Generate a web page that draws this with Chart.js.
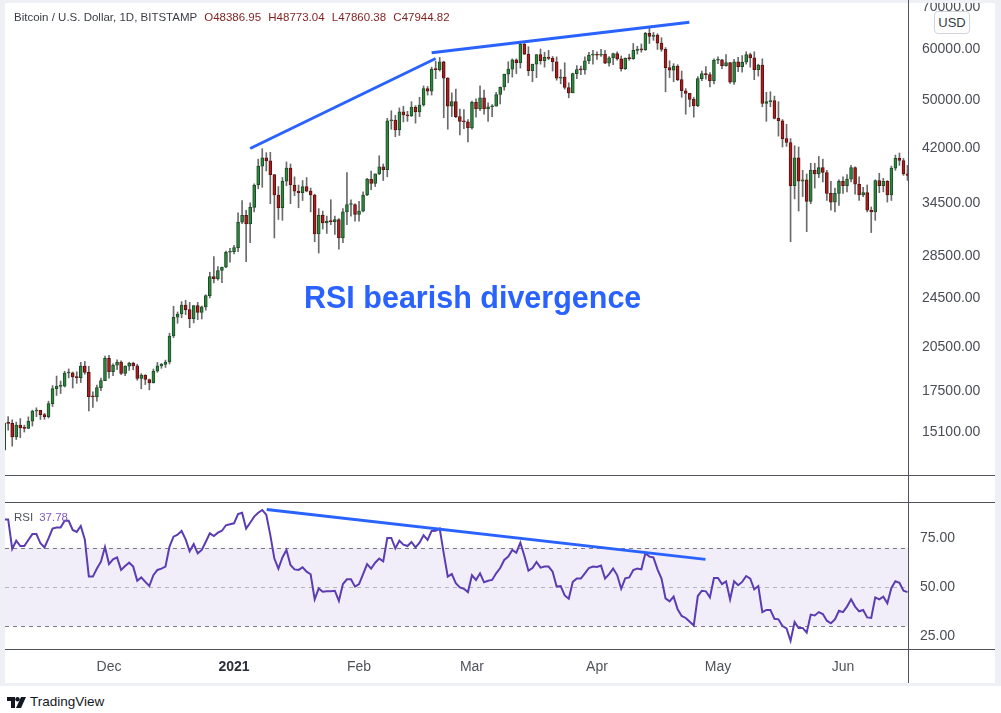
<!DOCTYPE html>
<html>
<head>
<meta charset="utf-8">
<title>Bitcoin / U.S. Dollar, 1D - RSI bearish divergence</title>
<script src="https://cdn.jsdelivr.net/npm/chart.js@4.4.1/dist/chart.umd.min.js"></script>
<style>
  html, body { margin: 0; padding: 0; background: #fff; }
  body { position: relative; width: 1001px; height: 713px; overflow: hidden; font-family: "Liberation Sans", Arial, sans-serif; }
  #frame { position: absolute; left: 0; top: 0; width: 1001px; height: 686px; background: #eef0f5; }
  #panel { position: absolute; left: 5px; top: 3px; width: 990px; height: 680px; background: #fff; }
  .pane { position: absolute; left: 5px; width: 990px; }
  .hline { position: absolute; left: 5px; width: 990px; height: 1px; background: #50535e; }
  .vline { position: absolute; left: 908px; top: 0; width: 1px; height: 683px; background: #50535e; }
  #title { position: absolute; left: 14px; top: 11px; font-size: 11.5px; color: #3a3d45; white-space: nowrap; }
  #title .ohlc { color: #7f1f1f; margin-left: 7px; word-spacing: 4px; }
  #rsiLabel { position: absolute; left: 14px; top: 511px; font-size: 11.5px; color: #50535e; white-space: nowrap; }
  #rsiLabel span { color: #7e57c2; margin-left: 6px; }
  #note { position: absolute; left: 304px; top: 282px; font-size: 30.5px; font-weight: bold; color: #2962ff; white-space: nowrap; line-height: 30px; }
  #usd { position: absolute; left: 934px; top: 11px; width: 34px; height: 21px; border: 1px solid #d1d4dc; border-radius: 4px; background: #fff;
         font-size: 13px; color: #3a3d45; text-align: center; line-height: 21px; }
  #footer { position: absolute; left: 7px; top: 694px; font-size: 13.5px; color: #131722; white-space: nowrap; }
  #footer svg { vertical-align: -2px; margin-right: 4px; }
</style>
</head>
<body>
<div id="frame"></div>
<div id="panel"></div>

<div class="pane" style="top:3px;height:472px;"><canvas id="priceChart"></canvas></div>
<div class="pane" style="top:502px;height:181px;"><canvas id="rsiChart"></canvas></div>

<div class="hline" style="top:475px;"></div>
<div class="hline" style="top:502px;"></div>
<div class="hline" style="top:649px;"></div>
<div class="vline"></div>

<div id="title">Bitcoin / U.S. Dollar, 1D, BITSTAMP<span class="ohlc">O48386.95 H48773.04 L47860.38 C47944.82</span></div>
<div id="rsiLabel">RSI<span>37.78</span></div>
<div id="note">RSI bearish divergence</div>
<div id="usd">USD</div>
<div id="footer"><svg width="19" height="11" viewBox="0 0 19 11"><path d="M0 0h8v11H4V4H0z" fill="#131722"/><circle cx="10.5" cy="2.2" r="2.2" fill="#131722"/><path d="M14 0h5l-5 11h-5z" fill="#131722"/></svg>TradingView</div>

<script>
// daily candles, BTC/USD Bitstamp, index 0 = 5 Nov 2020 ... index 224 = 17 Jun 2021
const openP = [
  14150, 15590, 15580, 14830, 15480, 15330, 15300, 15700, 16290, 16330,
  16080, 15960, 16730, 17660, 17800, 17820, 18680, 18700, 18420, 18370,
  19160, 18720, 17150, 17140, 17720, 18180, 19700, 18780, 19220, 19440,
  18650, 19150, 19360, 19170, 18320, 18550, 18250, 18030, 18800, 19170,
  19270, 19440, 21350, 22840, 23110, 23860, 23480, 22730, 23820, 23240,
  23720, 24690, 26460, 26250, 27040, 27360, 28880, 28950, 29370, 32190,
  33000, 31990, 33950, 36800, 39400, 40600, 40150, 38200, 35500, 33900,
  37300, 39100, 36800, 36000, 35800, 36600, 36000, 35500, 30850, 33000,
  32100, 32300, 32250, 32500, 30400, 33400, 34300, 34300, 33100, 33500,
  35500, 37600, 37000, 38300, 39300, 38900, 46400, 46500, 44900, 47900,
  47400, 47200, 48700, 47900, 49100, 52100, 51600, 55900, 55800, 57400,
  54100, 48900, 49700, 47100, 46300, 46200, 45200, 49600, 48400, 50400,
  48400, 48800, 48900, 51000, 52400, 54900, 55900, 57800, 57200, 61200,
  59000, 55600, 56900, 58900, 57600, 58300, 58100, 57400, 54100, 54300,
  52300, 51300, 55000, 55800, 55750, 57600, 58800, 58850, 58750, 59000,
  57100, 58200, 59100, 58000, 56000, 58100, 58050, 59800, 60000, 59900,
  63600, 62900, 63200, 61400, 60000, 56200, 55700, 56500, 53800, 51700,
  51200, 50100, 49000, 54000, 55000, 54800, 53600, 57700, 57800, 56600,
  57200, 53300, 57400, 56400, 57300, 58900, 58200, 55800, 56700, 49400,
  49700, 49900, 46800, 46400, 43500, 42900, 36700, 40600, 37300, 37500,
  34700, 38800, 38300, 39200, 38500, 35700, 34600, 35700, 37300, 36700,
  37600, 39200, 36900, 35500, 35800, 33600, 33400, 37400, 36700, 37300,
  35500, 39100, 40500, 40200, 38300
];
const highP = [
  15750, 15960, 15780, 15650, 15850, 15480, 15950, 16340, 16480, 16330,
  16150, 16880, 17850, 18480, 18150, 18800, 18960, 18750, 18770, 19420,
  19480, 19140, 17450, 17880, 18340, 19850, 19920, 19310, 19600, 19520,
  19180, 19420, 19420, 19290, 18640, 18560, 18280, 18950, 19410, 19340,
  19570, 21560, 23770, 23280, 24170, 24290, 24100, 23830, 24100, 23790,
  24770, 26870, 28420, 27420, 27380, 28990, 29300, 29600, 33300, 34800,
  33600, 34500, 36950, 40400, 41950, 41350, 41400, 38200, 36600, 37800,
  40000, 39700, 37900, 36800, 37400, 37800, 36400, 35600, 33800, 33500,
  32900, 34900, 32900, 32600, 33800, 38500, 34900, 34400, 34700, 35900,
  37700, 38700, 38300, 40900, 39700, 46800, 48100, 47300, 48600, 48900,
  48000, 49700, 49000, 50500, 52600, 52500, 56300, 57500, 58300, 57500,
  54200, 51300, 52000, 48400, 48300, 46600, 49800, 50200, 52600, 51800,
  49500, 49200, 51400, 52400, 54900, 57400, 58000, 58000, 61800, 61700,
  60600, 56900, 58900, 60100, 59400, 59800, 58500, 58400, 55800, 57200,
  53200, 55100, 56600, 56500, 58400, 59400, 59800, 59500, 60000, 59800,
  58500, 59200, 59500, 58600, 58200, 59000, 61300, 60700, 61200, 63800,
  64900, 63800, 63500, 62600, 60400, 57600, 57000, 56800, 55500, 52100,
  51200, 50500, 54400, 55500, 56400, 55200, 58000, 58400, 57900, 58900,
  57200, 57900, 58300, 58700, 59500, 59200, 59500, 56900, 58000, 51400,
  51500, 50700, 49700, 46600, 45800, 43500, 42400, 42200, 38800, 38300,
  39800, 39800, 40800, 40400, 38800, 37300, 36400, 37500, 37900, 38200,
  39500, 39300, 37900, 36500, 36800, 34000, 37500, 38400, 37700, 37400,
  39400, 41000, 41300, 40500, 39500
];
const lowP = [
  14100, 15200, 14350, 14700, 14800, 15100, 15280, 15430, 15960, 15800,
  15810, 15880, 16560, 17230, 17350, 17760, 18360, 17700, 18000, 18050,
  18600, 16300, 16500, 16880, 17530, 18180, 18330, 18500, 18900, 18570,
  18500, 18860, 18900, 18200, 17650, 17920, 17580, 18020, 18730, 19000,
  19060, 19300, 21230, 22350, 22800, 23060, 22000, 22380, 22640, 22700,
  23430, 24500, 25860, 26100, 25880, 27320, 27850, 28700, 28950, 32000,
  27900, 29900, 33400, 36300, 36500, 38700, 34400, 30400, 32500, 32400,
  36700, 34400, 35400, 33900, 34800, 35900, 33400, 30000, 28800, 31400,
  30900, 31900, 30800, 29200, 29900, 31900, 32900, 32300, 32300, 33400,
  35400, 36200, 36600, 38200, 37400, 37900, 45000, 43800, 44000, 46200,
  46300, 47100, 46000, 47100, 48900, 50900, 50900, 54000, 55500, 46900,
  45000, 47100, 46900, 44100, 45100, 43000, 45000, 47000, 48100, 47500,
  46300, 47100, 48900, 49300, 51800, 53200, 54300, 55000, 56100, 58900,
  54600, 53400, 54200, 56900, 56300, 57800, 55500, 53700, 53000, 52000,
  50400, 51300, 54000, 54800, 54900, 57000, 56900, 57900, 58500, 57000,
  56500, 56800, 57700, 55500, 55800, 57700, 57900, 59000, 59400, 59800,
  61300, 62000, 60000, 59600, 51500, 54200, 53400, 53600, 50500, 47500,
  48800, 47000, 48800, 53600, 53900, 52400, 53000, 57000, 56000, 56500,
  53100, 52900, 55400, 55300, 56900, 56300, 53800, 54500, 48800, 46300,
  48800, 46700, 43900, 42200, 42300, 30000, 35000, 33500, 35300, 31100,
  34400, 36400, 37800, 37200, 34800, 33600, 33400, 34200, 35700, 35900,
  37200, 35600, 34800, 35300, 33400, 31000, 32400, 35800, 35900, 34600,
  34800, 38800, 39500, 38100, 37400
];
const closeP = [
  15590, 15580, 14830, 15480, 15330, 15300, 15700, 16290, 16330, 16080,
  15960, 16730, 17660, 17800, 17820, 18680, 18700, 18420, 18370, 19160,
  18720, 17150, 17140, 17720, 18180, 19700, 18780, 19220, 19440, 18650,
  19150, 19360, 19170, 18320, 18550, 18250, 18030, 18800, 19170, 19270,
  19440, 21350, 22840, 23110, 23860, 23480, 22730, 23820, 23240, 23720,
  24690, 26460, 26250, 27040, 27360, 28880, 28950, 29370, 32190, 33000,
  31990, 33950, 36800, 39400, 40600, 40150, 38200, 35500, 33900, 37300,
  39100, 36800, 36000, 35800, 36600, 36000, 35500, 30850, 33000, 32100,
  32300, 32250, 32500, 30400, 33400, 34300, 34300, 33100, 33500, 35500,
  37600, 37000, 38300, 39300, 38900, 46400, 46500, 44900, 47900, 47400,
  47200, 48700, 47900, 49100, 52100, 51600, 55900, 55800, 57400, 54100,
  48900, 49700, 47100, 46300, 46200, 45200, 49600, 48400, 50400, 48400,
  48800, 48900, 51000, 52400, 54900, 55900, 57800, 57200, 61200, 59000,
  55600, 56900, 58900, 57600, 58300, 58100, 57400, 54100, 54300, 52300,
  51300, 55000, 55800, 55750, 57600, 58800, 58850, 58750, 59000, 57100,
  58200, 59100, 58000, 56000, 58100, 58050, 59800, 60000, 59900, 63600,
  62900, 63200, 61400, 60000, 56200, 55700, 56500, 53800, 51700, 51200,
  50100, 49000, 54000, 55000, 54800, 53600, 57700, 57800, 56600, 57200,
  53300, 57400, 56400, 57300, 58900, 58200, 55800, 56700, 49400, 49700,
  49900, 46800, 46400, 43500, 42900, 36700, 40600, 37300, 37500, 34700,
  38800, 38300, 39200, 38500, 35700, 34600, 35700, 37300, 36700, 37600,
  39200, 36900, 35500, 35800, 33600, 33400, 37400, 36700, 37300, 35500,
  39100, 40500, 40200, 38300, 38100
];

const rsi = [
  84.5, 84.5, 69.4, 73.6, 70.9, 70.9, 74.0, 77.0, 77.0, 72.3,
  70.2, 74.8, 79.8, 80.4, 80.4, 83.8, 83.8, 79.1, 78.1, 81.1,
  74.3, 55.3, 55.3, 59.4, 62.9, 70.4, 61.7, 64.1, 65.1, 58.7,
  60.7, 62.4, 60.4, 53.2, 54.9, 52.6, 50.5, 56.0, 58.7, 59.4,
  60.4, 70.6, 75.7, 76.7, 78.6, 74.3, 68.2, 71.9, 67.2, 68.9,
  73.1, 77.4, 76.0, 77.7, 78.7, 81.5, 82.0, 82.5, 87.2, 87.9,
  79.8, 82.8, 85.9, 87.9, 89.3, 86.9, 76.5, 64.5, 59.4, 65.1,
  68.9, 61.2, 59.0, 58.7, 60.0, 57.8, 56.5, 43.7, 49.3, 47.6,
  47.8, 47.8, 48.1, 42.9, 51.5, 53.9, 53.9, 50.2, 51.5, 56.6,
  61.7, 59.4, 62.4, 64.5, 63.1, 75.0, 75.0, 69.7, 73.6, 71.6,
  70.9, 73.0, 70.2, 72.6, 76.4, 74.0, 78.6, 78.7, 79.8, 67.2,
  55.3, 56.6, 51.9, 49.8, 49.1, 47.4, 56.0, 53.6, 57.0, 52.4,
  53.2, 53.6, 57.0, 59.7, 63.8, 65.5, 68.9, 67.5, 72.6, 65.8,
  58.3, 59.7, 62.8, 59.9, 60.4, 60.4, 57.8, 50.2, 50.5, 45.7,
  44.0, 52.6, 54.3, 54.3, 57.0, 59.7, 60.4, 60.2, 60.9, 54.3,
  56.6, 59.4, 56.1, 49.1, 54.4, 54.9, 58.7, 59.4, 59.0, 67.2,
  65.5, 65.1, 59.0, 54.3, 44.2, 42.7, 45.1, 38.6, 35.2, 34.2,
  32.3, 30.4, 45.4, 48.1, 47.8, 44.7, 54.6, 54.6, 51.5, 52.9,
  43.7, 52.9, 50.9, 52.6, 55.6, 54.3, 48.8, 50.5, 37.2, 38.3,
  38.3, 33.8, 33.5, 30.1, 28.9, 22.6, 32.1, 29.1, 29.1, 26.7,
  35.9, 35.5, 37.2, 36.2, 32.8, 31.5, 33.5, 37.9, 37.2, 40.0,
  43.7, 40.0, 37.6, 38.3, 34.5, 34.2, 44.7, 43.7, 45.1, 41.7,
  49.5, 52.9, 52.2, 48.1, 47.4
];

// drawn trend lines: [day index, value]
const priceTrendLow = [[61.0, 41980], [107.0, 58070]];
const priceTrendHigh = [[106.0, 59300], [169.9, 66170]];
const rsiTrend = [[65.1, 89.6], [173.9, 64.1]];

// axes
const monthTicks = [26, 57, 88, 116, 147, 177, 208];
const monthLabels = ["Dec", "2021", "Feb", "Mar", "Apr", "May", "Jun"];
const priceTicks = [15100, 17500, 20500, 24500, 28500, 34500, 42000, 50000, 60000, 70000];
const rsiTicks = [25, 50, 75];
const rsiUpper = 70;
const rsiMid = 50;
const rsiLower = 30;

const xMin = 0.21;
const xMax = 224.12;
const priceMin = 12933;
const priceMax = 70940;
const rsiMin = 18.37;
const rsiMax = 93.37;
const axisWidth = 87;

const upFill = "#2e8540";
const upLine = "#1c4d25";
const downFill = "#a81e1e";
const downLine = "#5c1111";
const wickColor = "#6b6b6b";
const trendColor = "#2962ff";

Chart.defaults.font.family = "'Liberation Sans', Arial, sans-serif";

const isUp = (i) => closeP[i] >= openP[i];
const toPoints = (pairs) => pairs.map(([x, y]) => ({ x: x, y: y }));

const wicks = closeP.map((c, i) => ({ x: i, y: [lowP[i], highP[i]] }));
const bodies = closeP.map((c, i) => ({
  x: i,
  y: [Math.min(openP[i], c), Math.max(openP[i], c)],
}));

new Chart(document.getElementById("priceChart"), {
  type: "bar",
  data: {
    datasets: [
      {
        type: "line",
        data: toPoints(priceTrendLow),
        borderColor: trendColor,
        borderWidth: 3,
        pointRadius: 0,
        order: 0,
      },
      {
        type: "line",
        data: toPoints(priceTrendHigh),
        borderColor: trendColor,
        borderWidth: 3,
        pointRadius: 0,
        order: 0,
      },
      {
        data: bodies,
        backgroundColor: (ctx) => (isUp(ctx.dataIndex) ? upFill : downFill),
        borderColor: (ctx) => (isUp(ctx.dataIndex) ? upLine : downLine),
        borderWidth: 1,
        borderSkipped: false,
        barThickness: 3,
        minBarLength: 1,
        grouped: false,
        clip: 0,
        order: 1,
      },
      {
        data: wicks,
        backgroundColor: wickColor,
        barThickness: 1,
        grouped: false,
        clip: 0,
        order: 2,
      },
    ],
  },
  options: {
    responsive: true,
    maintainAspectRatio: false,
    animation: false,
    events: [],
    layout: { padding: 0 },
    plugins: { legend: { display: false }, tooltip: { enabled: false } },
    scales: {
      x: { type: "linear", min: xMin, max: xMax, offset: false, display: false },
      y: {
        type: "logarithmic",
        position: "right",
        min: priceMin,
        max: priceMax,
        grid: { display: false, drawTicks: false },
        border: { display: false },
        afterBuildTicks: (scale) => {
          scale.ticks = priceTicks.map((v) => ({ value: v }));
        },
        afterFit: (scale) => {
          scale.width = axisWidth;
          scale.paddingTop = 0;
          scale.paddingBottom = 0;
        },
        ticks: {
          autoSkip: false,
          padding: 14,
          color: "#4a4d56",
          font: { size: 14 },
          callback: (v) => Number(v).toFixed(2),
        },
      },
    },
  },
});

// shaded 70/30 band with dashed levels
const rsiBands = {
  id: "rsiBands",
  beforeDatasetsDraw(chart) {
    const { ctx, chartArea, scales } = chart;
    const top = scales.y.getPixelForValue(rsiUpper);
    const bottom = scales.y.getPixelForValue(rsiLower);
    ctx.save();
    ctx.fillStyle = "rgba(126, 87, 194, 0.1)";
    ctx.fillRect(chartArea.left, top, chartArea.right - chartArea.left, bottom - top);
    ctx.lineWidth = 1;
    ctx.setLineDash([4, 4]);
    [[rsiUpper, "#787b86"], [rsiMid, "#b2b5be"], [rsiLower, "#787b86"]].forEach(([v, col]) => {
      const y = Math.round(scales.y.getPixelForValue(v)) + 0.5;
      ctx.strokeStyle = col;
      ctx.beginPath();
      ctx.moveTo(chartArea.left, y);
      ctx.lineTo(chartArea.right, y);
      ctx.stroke();
    });
    ctx.restore();
  },
};

new Chart(document.getElementById("rsiChart"), {
  type: "line",
  data: {
    datasets: [
      {
        data: toPoints(rsiTrend),
        borderColor: trendColor,
        borderWidth: 3,
        pointRadius: 0,
        order: 0,
      },
      {
        data: rsi.map((v, i) => ({ x: i, y: v })),
        borderColor: "#5b3cb2",
        borderWidth: 2,
        pointRadius: 0,
        tension: 0,
        order: 1,
      },
    ],
  },
  options: {
    responsive: true,
    maintainAspectRatio: false,
    animation: false,
    events: [],
    layout: { padding: 0 },
    plugins: { legend: { display: false }, tooltip: { enabled: false } },
    scales: {
      x: {
        type: "linear",
        min: xMin,
        max: xMax,
        offset: false,
        grid: { display: false, drawTicks: false },
        border: { display: false },
        afterBuildTicks: (scale) => {
          scale.ticks = monthTicks.map((v) => ({ value: v }));
        },
        afterFit: (scale) => {
          scale.height = 34;
          scale.paddingLeft = 0;
          scale.paddingRight = 0;
        },
        ticks: {
          autoSkip: false,
          maxRotation: 0,
          padding: 10,
          color: (c) => (c.tick && c.tick.value === 57 ? "#2a2e39" : "#50535e"),
          font: (c) => ({ size: 14, weight: c.tick && c.tick.value === 57 ? "bold" : "normal" }),
          callback: (v) => monthLabels[monthTicks.indexOf(v)],
        },
      },
      y: {
        type: "linear",
        position: "right",
        min: rsiMin,
        max: rsiMax,
        grid: { display: false, drawTicks: false },
        border: { display: false },
        afterBuildTicks: (scale) => {
          scale.ticks = rsiTicks.map((v) => ({ value: v }));
        },
        afterFit: (scale) => {
          scale.width = axisWidth;
          scale.paddingTop = 0;
          scale.paddingBottom = 0;
        },
        ticks: {
          autoSkip: false,
          padding: 12,
          color: "#4a4d56",
          font: { size: 14 },
          callback: (v) => Number(v).toFixed(2),
        },
      },
    },
  },
  plugins: [rsiBands],
});
</script>
</body>
</html>
